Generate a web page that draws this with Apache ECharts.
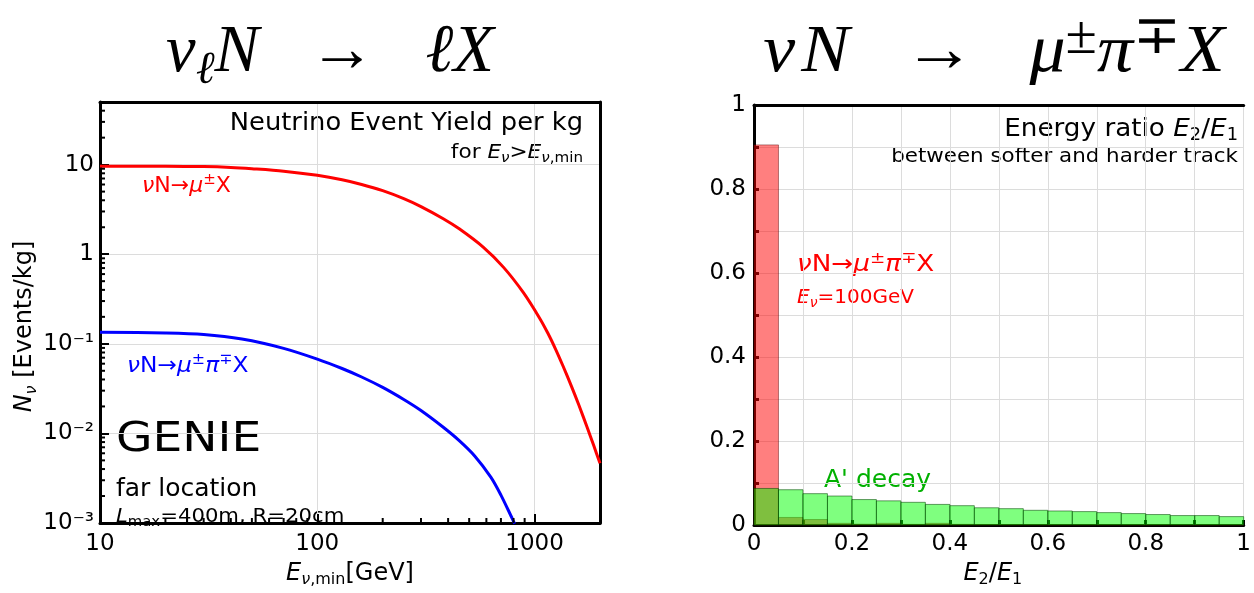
<!DOCTYPE html>
<html><head><meta charset="utf-8">
<script src="https://cdn.jsdelivr.net/npm/echarts@6/dist/echarts.min.js"></script>
<style>html,body{margin:0;padding:0;background:#fff}#c{width:1254px;height:593px}</style>
</head><body><div id="c"></div>
<script>
// ---- Left panel: event yield vs E_min (log-log) ----
const yieldE      = [10, 20, 30, 40, 50, 70, 100, 130, 160, 200, 250, 300, 380, 450, 580, 720, 890, 1050, 1150, 1250, 1350, 1480, 1600, 1750, 1870, 2000];
const yieldMuX    = [9.6, 9.57, 9.5, 9.3, 9.0, 8.45, 7.6, 6.78, 6.01, 5.12, 4.17, 3.4, 2.49, 1.92, 1.2, 0.713, 0.37, 0.197, 0.132, 0.0869, 0.0569, 0.0333, 0.0206, 0.0115, 0.00736, 0.00463];
const pionE       = [10, 20, 30, 45, 70, 100, 130, 160, 200, 250, 300, 380, 450, 530, 630, 700, 780, 800, 810];
const yieldMuPiX  = [0.135, 0.132, 0.127, 0.113, 0.089, 0.0675, 0.053, 0.0426, 0.0326, 0.0239, 0.018, 0.0117, 0.0083, 0.0056, 0.00323, 0.00205, 0.00119, 0.00104, 0.00098];
const xMinorTicks = [20, 30, 40, 50, 60, 70, 80, 90, 200, 300, 400, 500, 600, 700, 800, 900];
const yMinorTicks = [0.002,0.003,0.004,0.005,0.006,0.007,0.008,0.009,0.02,0.03,0.04,0.05,0.06,0.07,0.08,0.09,0.2,0.3,0.4,0.5,0.6,0.7,0.8,0.9,2,3,4,5,6,7,8,9,20,30,40];

// ---- Right panel: histogram of E2/E1 ----
const binLeft  = [0, 0.05, 0.1, 0.15, 0.2, 0.25, 0.3, 0.35, 0.4, 0.45, 0.5, 0.55, 0.6, 0.65, 0.7, 0.75, 0.8, 0.85, 0.9, 0.95];
const binRight = [0.05, 0.1, 0.15, 0.2, 0.25, 0.3, 0.35, 0.4, 0.45, 0.5, 0.55, 0.6, 0.65, 0.7, 0.75, 0.8, 0.85, 0.9, 0.95, 1.0];
const muPiRatio   = [0.905, 0.018, 0.013, 0.004, 0.002, 0.004, 0.0015, 0.004, 0.0015, 0.001, 0.0008, 0.0008, 0.0006, 0.0006, 0.0005, 0.0005, 0.0005, 0.0004, 0.0004, 0.0004];
const aPrimeRatio = [0.087, 0.084, 0.0746, 0.069, 0.0606, 0.0575, 0.054, 0.049, 0.046, 0.041, 0.0389, 0.035, 0.0334, 0.0319, 0.0295, 0.0272, 0.0249, 0.0225, 0.0225, 0.020];

const SANS = 'DejaVu Sans';
const SERIF = 'Liberation Serif';

function rs(fs, color, italic, lh, va) {
  const o = {fontSize: fs, fontFamily: SANS, color: color, fill: color, fontStyle: italic ? 'italic' : 'normal'};
  if (lh !== undefined) o.lineHeight = lh;
  if (va) o.verticalAlign = va;
  return o;
}
function richSet(fs, color) {
  const L = Math.round(fs * 1.2);
  const s = Math.round(fs * 0.68);
  return {
    n: rs(fs, color, false, L, 'middle'),
    i: rs(fs, color, true, L, 'middle'),
    s: rs(s, color, true, Math.round(fs * 0.5), 'bottom'),
    t: rs(s, color, false, Math.round(fs * 0.5), 'bottom'),
    u: rs(s, color, false, Math.round(fs * 0.45), 'top')
  };
}
function gtext(x, y, align, text, fs, color, sx) {
  return {type: 'text', x: x, y: y, silent: true, scaleX: sx || 1,
    style: {text: text, align: align, verticalAlign: 'middle', fontSize: fs, fontFamily: SANS, fill: color, rich: richSet(fs, color)}};
}
function titleRich(fs) {
  const L = Math.round(fs * 1.2);
  return {
    m: {fontSize: fs, fontFamily: SERIF, fontStyle: 'italic', fill: '#000', lineHeight: L, verticalAlign: 'middle'},
    a: {fontSize: fs, fontFamily: SERIF, fill: '#000', lineHeight: L, verticalAlign: 'middle'},
    s: {fontSize: Math.round(fs * 0.68), fontFamily: SERIF, fontStyle: 'italic', fill: '#000', lineHeight: Math.round(fs * 0.55), verticalAlign: 'bottom'},
    u: {fontSize: Math.round(fs * 0.8), fontFamily: SERIF, fill: '#000', lineHeight: Math.round(fs * 0.62), verticalAlign: 'top'}
  };
}
function ttext(x, y, text, fs, sx) {
  return {type: 'text', x: x, y: y, silent: true, scaleX: sx,
    style: {text: text, align: 'center', verticalAlign: 'middle', fontSize: fs, fontFamily: SERIF, fill: '#000', rich: titleRich(fs)}};
}

const supMap = {'-': '⁻', '0': '⁰', '1': '¹', '2': '²', '3': '³', '4': '⁴'};
function logLabel(v) {
  const n = Math.round(Math.log10(v));
  if (Math.abs(v / Math.pow(10, n) - 1) > 1e-6) return '';
  if (n === 0) return '1';
  if (n === 1) return '10';
  if (n >= 2) return String(Math.pow(10, n));
  return '10' + String(n).split('').map(c => supMap[c]).join('');
}
function tenthLabel(v) {
  const k = Math.round(v * 10);
  if (k % 2 !== 0) return '';
  if (k === 0) return '0';
  if (k === 10) return '1';
  return (k / 10).toString();
}

const labelStyle = {fontSize: 23, fontFamily: SANS, color: '#000'};
const gridLine = {show: true, lineStyle: {color: '#dcdcdc', width: 1}};
const frameLine = {show: true, onZero: false, lineStyle: {color: '#000', width: 3}};
function frameAxis(gridIndex, position) {
  return {type: 'value', gridIndex: gridIndex, min: 0, max: 1, position: position,
    axisLine: frameLine, axisTick: {show: false}, axisLabel: {show: false}, splitLine: {show: false}};
}

function minorTickX(params, api) {
  const p = api.coord([api.value(0), 1]);
  const cs = params.coordSys;
  const yb = cs.y + cs.height;
  return {type: 'line', shape: {x1: p[0], y1: yb, x2: p[0], y2: yb - 5}, style: {stroke: '#000', lineWidth: 2}};
}
function minorTickY(params, api) {
  const p = api.coord([100, api.value(1)]);
  const cs = params.coordSys;
  return {type: 'line', shape: {x1: cs.x, y1: p[1], x2: cs.x + 5, y2: p[1]}, style: {stroke: '#000', lineWidth: 2}};
}
function histItem(fill, stroke) {
  return function (params, api) {
    const p0 = api.coord([api.value(0), 0]);
    const p1 = api.coord([api.value(1), api.value(2)]);
    return {type: 'rect', shape: {x: p0[0], y: p1[1], width: p1[0] - p0[0], height: p0[1] - p1[1]},
      style: {fill: fill, stroke: stroke, lineWidth: 1}};
  };
}

const chart = echarts.init(document.getElementById('c'), null, {renderer: 'canvas'});
chart.setOption({
  animation: false,
  backgroundColor: '#fff',
  grid: [
    {left: 100, top: 102, width: 500, height: 431, show: false},
    {left: 754, top: 105, width: 500, height: 430, show: false}
  ],
  xAxis: [
    {type: 'log', logBase: 10, gridIndex: 0, min: 10, max: 2000,
      axisLine: frameLine, axisTick: {inside: true, length: 9, lineStyle: {color: '#000', width: 2}},
      axisLabel: Object.assign({margin: 10, formatter: logLabel}, labelStyle), splitLine: gridLine,
      name: '{i|E}{s|ν}{t|,min}{n|[GeV]}', nameLocation: 'middle', nameGap: 36,
      nameTextStyle: {rich: richSet(24, '#000')}},
    {type: 'value', gridIndex: 1, min: 0, max: 1, interval: 0.1,
      axisLine: frameLine,
      axisTick: {inside: true, length: 5, lineStyle: {color: '#000', width: 3}},
      axisLabel: Object.assign({margin: 8, formatter: tenthLabel, showMaxLabel: true}, labelStyle), splitLine: gridLine,
      name: '{i|E}{t|2}{n|/}{i|E}{t|1}', nameLocation: 'middle', nameGap: 34,
      nameTextStyle: {rich: richSet(24, '#000'), padding: [0, 12, 0, 0]}},
    frameAxis(1, 'top'),
    frameAxis(0, 'top')
  ],
  yAxis: [
    {type: 'log', logBase: 10, gridIndex: 0, min: 0.001, max: 50,
      axisLine: frameLine, axisTick: {inside: true, length: 9, lineStyle: {color: '#000', width: 2}},
      axisLabel: Object.assign({margin: 6, formatter: logLabel}, labelStyle), splitLine: gridLine,
      name: '{i|N}{s|ν}{n| [Events/kg]}', nameLocation: 'middle', nameGap: 52,
      nameTextStyle: {rich: richSet(24, '#000'), padding: [0, 28, 0, 0]}},
    {type: 'value', gridIndex: 1, min: 0, max: 1, interval: 0.1,
      axisLine: frameLine,
      axisTick: {inside: true, length: 5, lineStyle: {color: '#000', width: 3}},
      axisLabel: Object.assign({margin: 8, formatter: tenthLabel, showMaxLabel: true}, labelStyle), splitLine: gridLine},
    frameAxis(0, 'right')
  ],
  series: [
    {type: 'custom', xAxisIndex: 0, yAxisIndex: 0, silent: true, clip: false, z: 5,
      data: xMinorTicks.map(v => [v, 1]), renderItem: minorTickX},
    {type: 'custom', xAxisIndex: 0, yAxisIndex: 0, silent: true, clip: false, z: 5,
      data: yMinorTicks.map(v => [100, v]), renderItem: minorTickY},
    {type: 'line', name: 'muX', xAxisIndex: 0, yAxisIndex: 0, showSymbol: false, smooth: 0.3,
      data: yieldE.map((e, k) => [e, yieldMuX[k]]), lineStyle: {color: '#ff0000', width: 3}, z: 3},
    {type: 'line', name: 'muPiX', xAxisIndex: 0, yAxisIndex: 0, showSymbol: false, smooth: 0.3,
      data: pionE.map((e, k) => [e, yieldMuPiX[k]]), lineStyle: {color: '#0000ff', width: 3}, z: 3},
    {type: 'custom', name: 'nu', xAxisIndex: 1, yAxisIndex: 1, silent: true, z: 2,
      data: binLeft.map((b, k) => [b, binRight[k], muPiRatio[k]]),
      renderItem: histItem('rgba(255,0,0,0.5)', 'rgba(90,0,0,0.45)')},
    {type: 'custom', name: 'aprime', xAxisIndex: 1, yAxisIndex: 1, silent: true, z: 2,
      data: binLeft.map((b, k) => [b, binRight[k], aPrimeRatio[k]]),
      renderItem: histItem('rgba(0,255,0,0.5)', 'rgba(0,70,0,0.55)')}
  ],
  graphic: [
    ttext(330, 53, '{m|ν}{s|ℓ}{m|N}{a|   →   }{m|ℓX}', 68, 0.98),
    ttext(994, 53, '{m|ν\u200AN}{a|   →   }{m|μ}{u|±}{m|π}{u|∓}{m|X}', 68, 1.06),
    gtext(583, 123, 'right', '{n|Neutrino Event Yield per kg}', 25, '#000', 1.03),
    gtext(583, 153, 'right', '{n|for }{i|E}{s|ν}{n|>}{i|E}{s|ν}{t|,min}', 20, '#000', 1.08),
    gtext(142, 186, 'left', '{i|ν}{n|N→}{i|μ}{u|±}{n|X}', 22, '#ff0000'),
    gtext(127, 366, 'left', '{i|ν}{n|N→}{i|μ}{u|±}{i|π}{u|∓}{n|X}', 22, '#0000ff', 1.06),
    gtext(116, 440, 'left', '{n|GENIE}', 41, '#000', 1.15),
    gtext(116, 490, 'left', '{n|far location}', 24, '#000', 1.04),
    gtext(116, 517, 'left', '{i|L}{t|max}{n|=400m, R=20cm}', 20, '#000', 1.06),
    gtext(1238, 129, 'right', '{n|Energy ratio }{i|E}{t|2}{n|/}{i|E}{t|1}', 25, '#000', 1.05),
    gtext(1238, 157, 'right', '{n|between softer and harder track}', 20, '#000', 1.07),
    gtext(797, 265, 'left', '{i|ν}{n|N→}{i|μ}{u|±}{i|π}{u|∓}{n|X}', 23, '#ff0000', 1.14),
    gtext(797, 298, 'left', '{i|E}{s|ν}{n|=100GeV}', 20, '#ff0000'),
    gtext(824, 480, 'left', '{n|A\' decay}', 25, '#00b000')
  ]
});
</script></body></html>
